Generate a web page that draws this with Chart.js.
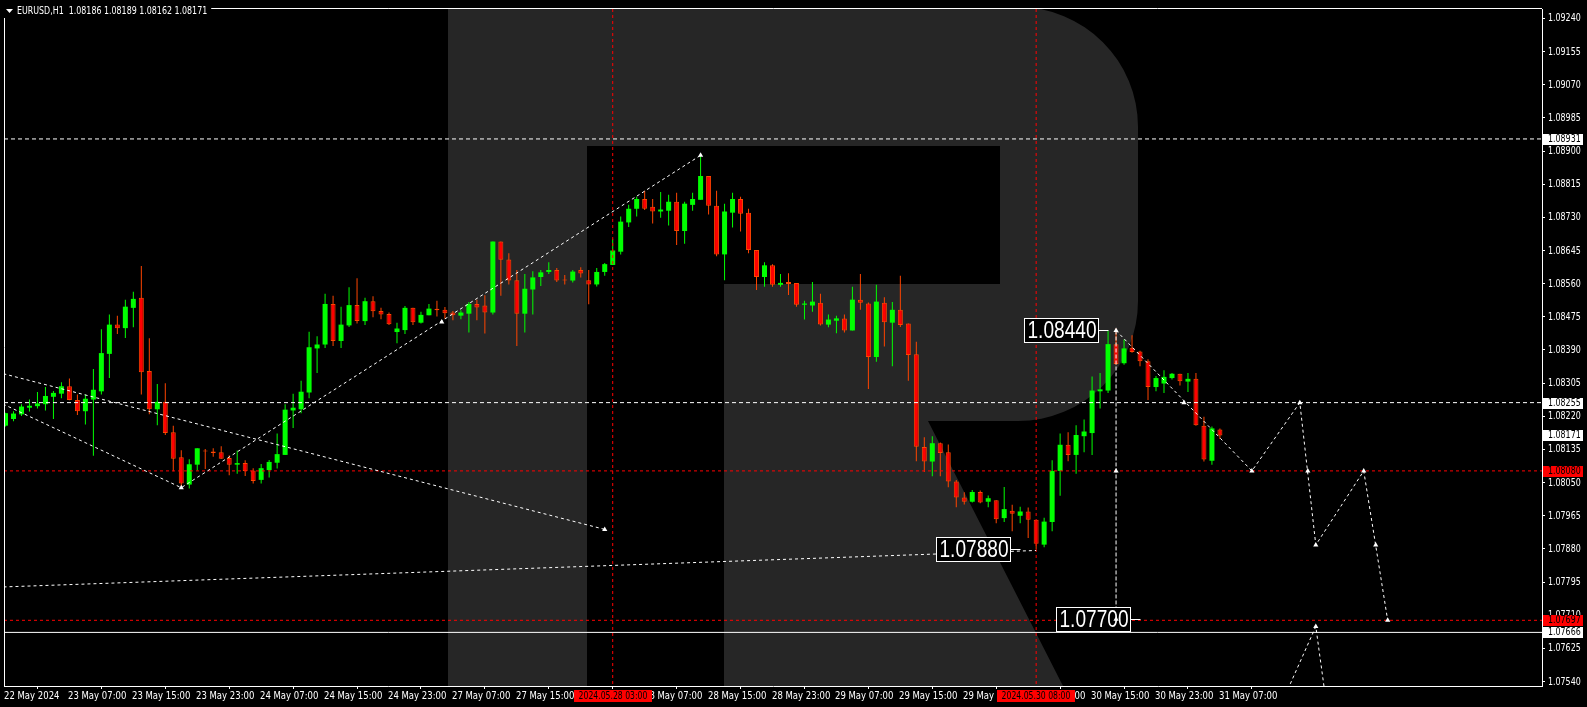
<!DOCTYPE html>
<html>
<head>
<meta charset="utf-8">
<script src="https://cdn.jsdelivr.net/npm/chart.js@4.4.1/dist/chart.umd.min.js"></script>
<style>
  html, body { margin: 0; padding: 0; background: #000; overflow: hidden; }
  #wrap { width: 1587px; height: 707px; position: relative; }
</style>
</head>
<body>
<div id="wrap"><canvas id="chart"></canvas></div>
<script>
// EURUSD H1, 22 May 23:00 .. 31 May 07:00 (bar index 0..152)
const opens = [
  1.08196,1.08213,1.08225,1.08242,1.08246,1.08251,1.08270,1.08278,1.08297,1.08262,
  1.08233,1.08263,1.08284,1.08380,1.08455,1.08446,1.08498,1.08524,1.08336,1.08238,
  1.08257,1.08179,1.08115,1.08045,1.08096,1.08132,1.08130,1.08128,1.08113,1.08096,
  1.08100,1.08081,1.08057,1.08082,1.08101,1.08121,1.08235,1.08238,1.08281,1.08394,
  1.08404,1.08508,1.08413,1.08453,1.08505,1.08464,1.08515,1.08490,1.08482,1.08436,
  1.08441,1.08498,1.08460,1.08479,1.08496,1.08493,1.08486,1.08478,1.08483,1.08508,
  1.08504,1.08486,1.08668,1.08622,1.08569,1.08483,1.08545,1.08577,1.08590,1.08595,
  1.08570,1.08568,1.08595,1.08569,1.08558,1.08590,1.08608,1.08642,1.08717,1.08752,
  1.08777,1.08757,1.08745,1.08747,1.08770,1.08695,1.08762,1.08775,1.08836,1.08760,
  1.08635,1.08742,1.08777,1.08742,1.08646,1.08577,1.08607,1.08557,1.08564,1.08562,
  1.08506,1.08504,1.08511,1.08455,1.08465,1.08471,1.08440,1.08519,1.08509,1.08372,
  1.08511,1.08460,1.08493,1.08458,1.08379,1.08141,1.08104,1.08151,1.08128,1.08053,
  1.08012,1.08001,1.08026,1.08001,1.08005,1.07959,1.07978,1.07965,1.07976,1.07955,
  1.07891,1.07949,1.08080,1.08147,1.08121,1.08169,1.08177,1.08284,1.08286,1.08405,
  1.08356,1.08396,1.08386,1.08361,1.08295,1.08304,1.08318,1.08329,1.08309,1.08316,
  1.08196,1.08106,1.08186
];
const highs = [
  1.08229,1.08233,1.08251,1.08263,1.08282,1.08295,1.08285,1.08307,1.08317,1.08276,
  1.08276,1.08341,1.08443,1.08481,1.08478,1.08519,1.08539,1.08605,1.08420,1.08303,
  1.08305,1.08196,1.08133,1.08110,1.08138,1.08136,1.08138,1.08143,1.08120,1.08132,
  1.08107,1.08087,1.08098,1.08108,1.08176,1.08251,1.08278,1.08311,1.08437,1.08425,
  1.08534,1.08529,1.08501,1.08551,1.08574,1.08524,1.08528,1.08498,1.08486,1.08460,
  1.08503,1.08498,1.08488,1.08508,1.08516,1.08500,1.08490,1.08492,1.08513,1.08519,
  1.08530,1.08668,1.08668,1.08638,1.08595,1.08585,1.08592,1.08595,1.08615,1.08600,
  1.08582,1.08595,1.08602,1.08595,1.08600,1.08613,1.08675,1.08732,1.08762,1.08783,
  1.08798,1.08777,1.08795,1.08788,1.08793,1.08770,1.08793,1.08889,1.08836,1.08798,
  1.08765,1.08793,1.08783,1.08752,1.08646,1.08615,1.08610,1.08585,1.08587,1.08562,
  1.08516,1.08564,1.08534,1.08481,1.08478,1.08481,1.08552,1.08585,1.08512,1.08557,
  1.08525,1.08513,1.08580,1.08458,1.08411,1.08166,1.08169,1.08153,1.08148,1.08057,
  1.08025,1.08031,1.08030,1.08017,1.08005,1.08039,1.07993,1.07988,1.07986,1.07955,
  1.07960,1.08107,1.08176,1.08179,1.08197,1.08212,1.08322,1.08331,1.08439,1.08445,
  1.08417,1.08428,1.08388,1.08366,1.08323,1.08338,1.08331,1.08329,1.08331,1.08331,
  1.08219,1.08194,1.08189
];
const lows = [
  1.08194,1.08207,1.08221,1.08232,1.08240,1.08235,1.08213,1.08266,1.08261,1.08223,
  1.08199,1.08119,1.08276,1.08318,1.08431,1.08421,1.08448,1.08276,1.08225,1.08197,
  1.08172,1.08079,1.08041,1.08035,1.08081,1.08085,1.08116,1.08111,1.08069,1.08073,
  1.08067,1.08048,1.08048,1.08063,1.08086,1.08121,1.08190,1.08228,1.08266,1.08331,
  1.08395,1.08400,1.08395,1.08449,1.08458,1.08454,1.08474,1.08469,1.08454,1.08407,
  1.08431,1.08454,1.08458,1.08479,1.08476,1.08470,1.08466,1.08469,1.08435,1.08466,
  1.08432,1.08481,1.08529,1.08558,1.08400,1.08435,1.08481,1.08554,1.08585,1.08564,
  1.08558,1.08563,1.08576,1.08507,1.08553,1.08580,1.08608,1.08635,1.08705,1.08732,
  1.08749,1.08714,1.08729,1.08709,1.08659,1.08662,1.08747,1.08775,1.08737,1.08630,
  1.08569,1.08704,1.08694,1.08638,1.08544,1.08552,1.08552,1.08552,1.08531,1.08501,
  1.08468,1.08488,1.08453,1.08448,1.08433,1.08435,1.08440,1.08493,1.08290,1.08360,
  1.08399,1.08348,1.08449,1.08311,1.08105,1.08077,1.08066,1.08066,1.08038,1.07987,
  1.07994,1.07999,1.07997,1.07987,1.07946,1.07949,1.07925,1.07946,1.07908,1.07880,
  1.07884,1.07925,1.08016,1.08105,1.08073,1.08128,1.08121,1.08240,1.08280,1.08352,
  1.08352,1.08383,1.08348,1.08262,1.08284,1.08280,1.08314,1.08299,1.08282,1.08196,
  1.08104,1.08096,1.08162
];
const closes = [
  1.08228,1.08227,1.08245,1.08247,1.08253,1.08272,1.08280,1.08297,1.08262,1.08233,
  1.08265,1.08288,1.08382,1.08455,1.08446,1.08501,1.08521,1.08333,1.08238,1.08257,
  1.08177,1.08111,1.08048,1.08097,1.08138,1.08130,1.08126,1.08111,1.08096,1.08100,
  1.08080,1.08054,1.08087,1.08103,1.08123,1.08237,1.08242,1.08283,1.08397,1.08404,
  1.08508,1.08413,1.08455,1.08505,1.08464,1.08515,1.08489,1.08481,1.08456,1.08445,
  1.08498,1.08461,1.08480,1.08496,1.08492,1.08484,1.08479,1.08486,1.08508,1.08499,
  1.08486,1.08668,1.08621,1.08568,1.08483,1.08547,1.08576,1.08589,1.08595,1.08568,
  1.08568,1.08591,1.08586,1.08558,1.08590,1.08610,1.08645,1.08719,1.08752,1.08777,
  1.08752,1.08745,1.08750,1.08770,1.08695,1.08765,1.08777,1.08836,1.08760,1.08635,
  1.08745,1.08777,1.08739,1.08646,1.08577,1.08607,1.08557,1.08562,1.08559,1.08506,
  1.08509,1.08514,1.08455,1.08468,1.08471,1.08440,1.08519,1.08511,1.08372,1.08514,
  1.08461,1.08493,1.08454,1.08377,1.08142,1.08104,1.08151,1.08126,1.08053,1.08012,
  1.08001,1.08026,1.07999,1.08010,1.07956,1.07982,1.07970,1.07976,1.07955,1.07893,
  1.07950,1.08080,1.08147,1.08121,1.08172,1.08181,1.08286,1.08289,1.08405,1.08354,
  1.08394,1.08385,1.08361,1.08295,1.08318,1.08321,1.08329,1.08310,1.08316,1.08197,
  1.08109,1.08189,1.08171
];

// axis ticks
const xTickIdx = [0,8,16,24,32,40,48,56,64,72,80,88,96,104,112,120,128,136,144,152];
const xTickLabels = ['22 May 2024','23 May 07:00','23 May 15:00','23 May 23:00','24 May 07:00',
  '24 May 15:00','24 May 23:00','27 May 07:00','27 May 15:00','27 May 23:00','28 May 07:00',
  '28 May 15:00','28 May 23:00','29 May 07:00','29 May 15:00','29 May 23:00','30 May 07:00',
  '30 May 15:00','30 May 23:00','31 May 07:00'];
const yTickLabels = ['1.09240','1.09155','1.09070','1.08985','1.08900','1.08815','1.08730',
  '1.08645','1.08560','1.08475','1.08390','1.08305','1.08220','1.08135','1.08050','1.07965',
  '1.07880','1.07795','1.07710','1.07625','1.07540'];

// horizontal levels and their price tags
const dashLevels = [1.08931, 1.08255];
const redLevels = [1.08080, 1.07697];
const solidLevels = [1.07666];
const whiteTags = [1.08931, 1.08255, 1.08171, 1.07666];
const redTags = [1.08080, 1.07697];

// vertical red lines (bar index) and their time tags
const vLineIdx = [76, 129];
const vLineText = ['2024.05.28 03:00', '2024.05.30 08:00'];

// drawn trend lines: [bar index, price]
const trendA = [[-1, 1.08333], [75, 1.07930]];
const trendB = [[-1, 1.08258], [22, 1.08037], [87, 1.08889]];
const trendC = [[-1, 1.07782], [129, 1.07876]];
const projVert = [[139, 1.08440], [139, 1.07700]];
const projPath = [[139, 1.08440], [156, 1.08080], [162, 1.08255], [164, 1.07890], [170, 1.08080], [173, 1.07697]];
const projLow = [[160.5, 1.07520], [164, 1.07681], [165.5, 1.07457]];

// arrow marks
const markIdx = [22, 54.6, 87, 75, 139, 147.5, 139, 156, 162, 163, 164, 170, 171.5, 173, 164, 139];
const markPrice = [1.08037, 1.08462, 1.08889, 1.07930, 1.08440, 1.08255, 1.08080, 1.08080,
  1.08255, 1.08080, 1.07890, 1.08080, 1.07890, 1.07697, 1.07681, 1.07700];

// price notes on the chart
const noteText = ['1.08440', '1.07880', '1.07700'];
const notePrice = [1.08440, 1.07880, 1.07700];
const noteEdge = [136.8, 125.7, 140.7]; // bar position of the box's right side

const header = 'EURUSD,H1  1.08186 1.08189 1.08162 1.08171';

const X_MIN = -0.1875, X_MAX = 192.3125;
const Y_MAX = 1.092641, Y_MIN = 1.075286;

const SMALL_FONT = "11px 'DejaVu Sans Condensed', 'DejaVu Sans', sans-serif";
const SQ_TEXT = 0.86;   // time labels
const SQ_PRICE = 0.80;  // price labels
const SQ_DATE = 0.78;   // red time tags
const SQ_HEAD = 0.80;
const BIG_FONT = "23px 'Liberation Sans', 'DejaVu Sans', sans-serif";
const BULL = '#00ff00';
const BEAR = '#ff0000';
const BEAR_EDGE = '#ff4500';

const bullBodies = [], bearBodies = [], bullWicks = [], bearWicks = [];
opens.forEach((o, i) => {
  const up = closes[i] >= o;
  (up ? bullBodies : bearBodies).push({ x: i, y: [o, closes[i]] });
  (up ? bullWicks : bearWicks).push({ x: i, y: [lows[i], highs[i]] });
});

const pts = arr => arr.map(p => ({ x: p[0], y: p[1] }));
const lineSet = (label, data, color, dash, order) => ({
  type: 'line', label, data, borderColor: color, borderWidth: 1, borderDash: dash,
  pointRadius: 0, tension: 0, fill: false, order
});

const datasets = [
  { label: 'bullWicks', data: bullWicks, backgroundColor: BULL, barThickness: 1, order: 20 },
  { label: 'bearWicks', data: bearWicks, backgroundColor: BEAR_EDGE, barThickness: 1, order: 20 },
  { label: 'bull', data: bullBodies, backgroundColor: BULL, barThickness: 5, order: 19 },
  { label: 'bear', data: bearBodies, backgroundColor: BEAR, borderColor: BEAR_EDGE,
    borderWidth: 1, borderSkipped: false, barThickness: 5, order: 19 }
].map(d => Object.assign({ grouped: false, minBarLength: 1, inflateAmount: 0 }, d));

dashLevels.forEach(v => datasets.push(lineSet('lvl', [{x: X_MIN, y: v}, {x: X_MAX, y: v}], '#ffffff', [4, 3], 10)));
redLevels.forEach(v => datasets.push(lineSet('lvl', [{x: X_MIN, y: v}, {x: X_MAX, y: v}], '#ff0000', [3, 3], 10)));
solidLevels.forEach(v => datasets.push(lineSet('lvl', [{x: X_MIN, y: v}, {x: X_MAX, y: v}], '#ffffff', [], 10)));
vLineIdx.forEach(i => datasets.push(lineSet('vline', [{x: i, y: Y_MAX}, {x: i, y: Y_MIN}], '#ff0000', [3, 3], 10)));
[trendA, trendB, trendC, projPath, projLow].forEach(t =>
  datasets.push(lineSet('trend', pts(t), '#ffffff', [3, 3], 5)));
datasets.push(lineSet('vert', pts(projVert), '#ffffff', [4, 2], 5));
datasets.push({
  type: 'line', label: 'markers', showLine: false, order: 1,
  data: markIdx.map((x, k) => ({ x, y: markPrice[k] })),
  pointStyle: 'triangle', pointRadius: 3, pointBackgroundColor: '#ffffff',
  pointBorderColor: '#ffffff', pointBorderWidth: 0
});

// text squeezed sideways, like the narrow terminal font
function squeezed(ctx, text, x, y, align, sx) {
  ctx.save();
  ctx.translate(x, y);
  ctx.scale(sx, 1);
  ctx.textAlign = align;
  ctx.fillText(text, 0, 0);
  ctx.restore();
}

function drawNotes(chart) {
  const { ctx, scales: { x, y } } = chart;
  ctx.save();
  ctx.font = BIG_FONT;
  ctx.textBaseline = 'middle';
  noteText.forEach((t, k) => {
    const right = Math.round(x.getPixelForValue(noteEdge[k])) + 0.5;
    const cy = Math.round(y.getPixelForValue(notePrice[k])) + 0.5;
    const w = 74, h = 24;
    ctx.fillStyle = '#000';
    ctx.fillRect(right - w, cy - h / 2, w, h);
    ctx.strokeStyle = '#fff';
    ctx.lineWidth = 1;
    ctx.strokeRect(right - w, cy - h / 2, w, h);
    ctx.beginPath();
    ctx.moveTo(right, cy);
    ctx.lineTo(right + 10, cy);
    ctx.stroke();
    ctx.fillStyle = '#fff';
    const tw = ctx.measureText(t).width;
    squeezed(ctx, t, right - w + 3, cy + 1, 'left', Math.min(1, 69 / tw));
  });
  ctx.restore();
}

function drawLogo(chart) {
  const { ctx, chartArea: a } = chart;
  const top = 7, bot = a.bottom, r = 120;
  ctx.save();
  ctx.beginPath();
  ctx.rect(a.left, a.top, a.right - a.left, a.bottom - a.top);
  ctx.clip();
  ctx.fillStyle = '#262626';
  ctx.beginPath();
  ctx.moveTo(448, top);
  ctx.lineTo(1138 - r, top);
  ctx.arcTo(1138, top, 1138, top + r, r);
  ctx.lineTo(1138, 421 - r);
  ctx.arcTo(1138, 421, 1138 - r, 421, r);
  ctx.lineTo(928, 421);
  ctx.lineTo(1063, bot);
  ctx.lineTo(724, bot);
  ctx.lineTo(724, 284);
  ctx.lineTo(1000, 284);
  ctx.lineTo(1000, 146);
  ctx.lineTo(587, 146);
  ctx.lineTo(587, bot);
  ctx.lineTo(448, bot);
  ctx.closePath();
  ctx.fill();
  ctx.restore();
}

const mtPlugin = {
  id: 'mt',
  beforeDatasetsDraw(chart) { drawLogo(chart); },
  beforeDatasetDraw(chart, args) {
    if (chart.data.datasets[args.index].label === 'markers') drawNotes(chart);
  },
  afterDraw(chart) {
    const { ctx, chartArea: a, scales: { x, y } } = chart;
    ctx.save();
    // frame
    ctx.strokeStyle = '#fff';
    ctx.lineWidth = 1;
    ctx.beginPath();
    ctx.moveTo(a.left + 0.5, a.bottom);
    ctx.lineTo(a.left + 0.5, a.top - 0.5);
    ctx.lineTo(a.right, a.top - 0.5);
    ctx.stroke();
    ctx.font = SMALL_FONT;
    ctx.textBaseline = 'middle';
    ctx.fillStyle = '#fff';
    // axis labels
    y.ticks.forEach((t, k) => {
      squeezed(ctx, yTickLabels[k], a.right + 6, Math.round(y.getPixelForValue(t.value)) + 0.5, 'left', SQ_PRICE);
    });
    x.ticks.forEach((t, k) => {
      squeezed(ctx, xTickLabels[k], Math.round(x.getPixelForValue(t.value)) - 1, a.bottom + 10, 'left', SQ_TEXT);
    });
    // price tags on the right scale
    const tag = (v, bg) => {
      const cy = Math.round(y.getPixelForValue(v));
      ctx.fillStyle = bg;
      ctx.fillRect(a.right + 1, cy - 5, 40, 11);
      ctx.fillStyle = '#000';
      squeezed(ctx, v.toFixed(5), a.right + 6, cy + 0.5, 'left', SQ_PRICE);
    };
    whiteTags.forEach(v => tag(v, '#ffffff'));
    redTags.forEach(v => tag(v, '#ff0000'));
    // time tags of the vertical lines
    vLineIdx.forEach((i, k) => {
      const cx = Math.round(x.getPixelForValue(i));
      ctx.fillStyle = '#ff0000';
      ctx.fillRect(cx - 39, a.bottom + 4, 78, 12);
      ctx.fillStyle = '#000';
      squeezed(ctx, vLineText[k], cx, a.bottom + 10, 'center', SQ_DATE);
    });
    // header, on its own black strip over the frame
    ctx.font = SMALL_FONT;
    const hw = ctx.measureText(header).width * SQ_HEAD;
    ctx.fillStyle = '#000';
    ctx.fillRect(0, 0, 17 + hw + 4, 18);
    ctx.fillStyle = '#fff';
    ctx.beginPath();
    ctx.moveTo(6, 9); ctx.lineTo(13, 9); ctx.lineTo(9.5, 13);
    ctx.closePath();
    ctx.fill();
    squeezed(ctx, header, 17, 11.5, 'left', SQ_HEAD);
    ctx.restore();
  }
};

const hidden = 'rgba(0,0,0,0)';

new Chart(document.getElementById('chart'), {
  type: 'bar',
  data: { datasets },
  plugins: [mtPlugin],
  options: {
    responsive: true,
    maintainAspectRatio: false,
    animation: false,
    devicePixelRatio: 1,
    layout: { padding: { left: 2, top: 2, right: 0, bottom: 0 } },
    plugins: { legend: { display: false }, tooltip: { enabled: false } },
    scales: {
      x: {
        type: 'linear', min: X_MIN, max: X_MAX, offset: false,
        afterFit: s => { s.height = 21; },
        afterBuildTicks: s => { s.ticks = xTickIdx.map(v => ({ value: v })); },
        grid: { drawOnChartArea: false, color: '#fff', tickColor: '#fff', tickLength: 3 },
        border: { display: true, color: '#fff', width: 1 },
        ticks: {
          autoSkip: false, maxRotation: 0, align: 'start', padding: 1, color: hidden,
          font: { size: 10 }, callback: (v, i) => xTickLabels[i]
        }
      },
      y: {
        type: 'linear', position: 'right', min: Y_MIN, max: Y_MAX,
        afterFit: s => { s.width = 45; },
        afterBuildTicks: s => { s.ticks = yTickLabels.map(t => ({ value: parseFloat(t) })); },
        grid: { drawOnChartArea: false, color: '#fff', tickColor: '#fff', tickLength: 3 },
        border: { display: true, color: '#fff', width: 1 },
        ticks: {
          crossAlign: 'near', padding: 3, color: hidden,
          font: { size: 10 }, callback: (v, i) => yTickLabels[i]
        }
      }
    }
  }
});
</script>
</body>
</html>
